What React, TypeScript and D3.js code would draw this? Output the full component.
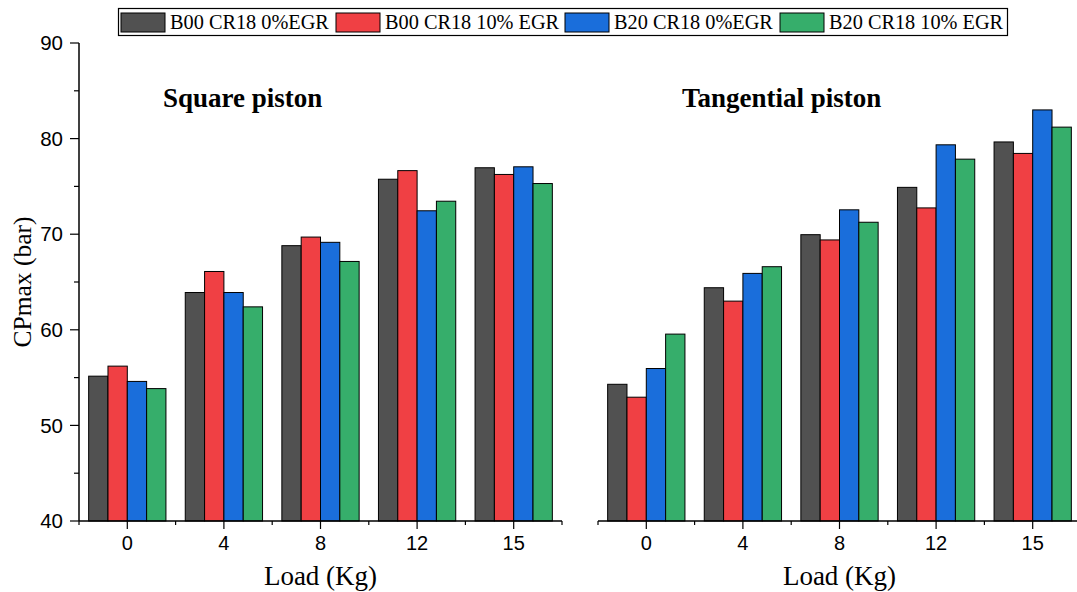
import { scaleBand, scaleLinear, range } from "d3";

const loads = ["0", "4", "8", "12", "15"];
const seriesNames = [
  "B00 CR18 0%EGR",
  "B00 CR18 10% EGR",
  "B20 CR18 0%EGR",
  "B20 CR18 10% EGR",
];
const colors = ["#515151", "#f04044", "#1a6edb", "#36ae6b"];

// one array per series, one value per load
const squareB00_0 = [55.15, 63.9, 68.8, 75.75, 76.95];
const squareB00_10 = [56.2, 66.1, 69.7, 76.65, 76.25];
const squareB20_0 = [54.6, 63.9, 69.15, 72.45, 77.05];
const squareB20_10 = [53.85, 62.4, 67.15, 73.45, 75.3];

const tangB00_0 = [54.3, 64.4, 69.95, 74.9, 79.65];
const tangB00_10 = [52.95, 63.0, 69.4, 72.75, 78.45];
const tangB20_0 = [55.95, 65.9, 72.55, 79.35, 83.0];
const tangB20_10 = [59.55, 66.6, 71.25, 77.85, 81.2];

const yTicks = [40, 50, 60, 70, 80, 90];

const width = 1077;
const height = 592;
const top = 43;
const bottom = 521;
const panelW = 483;
const leftX = 79;
const rightX = 598;

const serif = "'Liberation Serif', 'Times New Roman', serif";
const sans = "'Liberation Sans', Arial, sans-serif";

const yScale = scaleLinear().domain([40, 90]).range([bottom, top]);

const Panel = ({ x0, data, title, showY }) => {
  const xScale = scaleBand().domain(loads).range([x0, x0 + panelW]);
  const bw = xScale.bandwidth();
  const inner = scaleBand()
    .domain(seriesNames)
    .range([bw * 0.1, bw * 0.9]);

  return (
    <g>
      {loads.map((load, i) => (
        <g key={load} transform={`translate(${xScale(load)}, 0)`}>
          {seriesNames.map((s, j) => (
            <rect
              key={s}
              x={inner(s)}
              y={yScale(data[j][i])}
              width={inner.bandwidth()}
              height={bottom - yScale(data[j][i])}
              fill={colors[j]}
              stroke="#000"
              strokeWidth={1}
            />
          ))}
        </g>
      ))}

      {/* x axis */}
      <line x1={x0} x2={x0 + panelW} y1={bottom} y2={bottom} stroke="#000" strokeWidth={1.5} />
      {range(loads.length + 1).map((i) => (
        <line
          key={"m" + i}
          x1={x0 + i * bw}
          x2={x0 + i * bw}
          y1={bottom}
          y2={bottom + 4}
          stroke="#000"
          strokeWidth={1.2}
        />
      ))}
      {loads.map((load) => {
        const cx = (xScale(load) ?? 0) + bw / 2;
        return (
          <g key={load}>
            <line x1={cx} x2={cx} y1={bottom} y2={bottom + 8} stroke="#000" strokeWidth={1.2} />
            <text
              x={cx}
              y={bottom + 29}
              textAnchor="middle"
              fontFamily={sans}
              fontSize={20}
            >
              {load}
            </text>
          </g>
        );
      })}
      <text
        x={x0 + panelW / 2}
        y={585}
        textAnchor="middle"
        fontFamily={serif}
        fontSize={27}
      >
        Load (Kg)
      </text>

      {showY && (
        <g>
          <line x1={x0} x2={x0} y1={top} y2={bottom} stroke="#000" strokeWidth={1.5} />
          {range(40, 91, 5).map((v) => (
            <line
              key={v}
              x1={x0}
              x2={x0 - (v % 10 === 0 ? 9 : 5)}
              y1={yScale(v)}
              y2={yScale(v)}
              stroke="#000"
              strokeWidth={1.2}
            />
          ))}
          {yTicks.map((v) => (
            <text
              key={v}
              x={x0 - 16}
              y={yScale(v)}
              dy="0.35em"
              textAnchor="end"
              fontFamily={sans}
              fontSize={20.5}
            >
              {v}
            </text>
          ))}
          <text
            transform={`translate(31, ${(top + bottom) / 2}) rotate(-90)`}
            textAnchor="middle"
            fontFamily={serif}
            fontSize={25.5}
          >
            CPmax (bar)
          </text>
        </g>
      )}

      <text
        x={x0 + 84}
        y={107}
        fontFamily={serif}
        fontWeight="bold"
        fontSize={27}
      >
        {title}
      </text>
    </g>
  );
};

const legendX = [121, 336, 565, 780];

export default function App() {
  return (
    <svg
      width={width}
      height={height}
      style={{ position: "absolute", left: 0, top: 0, background: "#fff" }}
    >
      <Panel
        x0={leftX}
        data={[squareB00_0, squareB00_10, squareB20_0, squareB20_10]}
        title="Square piston"
        showY={true}
      />
      <Panel
        x0={rightX}
        data={[tangB00_0, tangB00_10, tangB20_0, tangB20_10]}
        title="Tangential piston"
        showY={false}
      />

      {/* legend */}
      <rect x={118.5} y={8.5} width={889} height={27} fill="#fff" stroke="#000" strokeWidth={1.2} />
      {seriesNames.map((s, i) => (
        <g key={s}>
          <rect
            x={legendX[i]}
            y={13}
            width={44}
            height={19}
            fill={colors[i]}
            stroke="#000"
            strokeWidth={1}
          />
          <text x={legendX[i] + 49} y={29} fontFamily={serif} fontSize={20.3}>
            {s}
          </text>
        </g>
      ))}
    </svg>
  );
}
